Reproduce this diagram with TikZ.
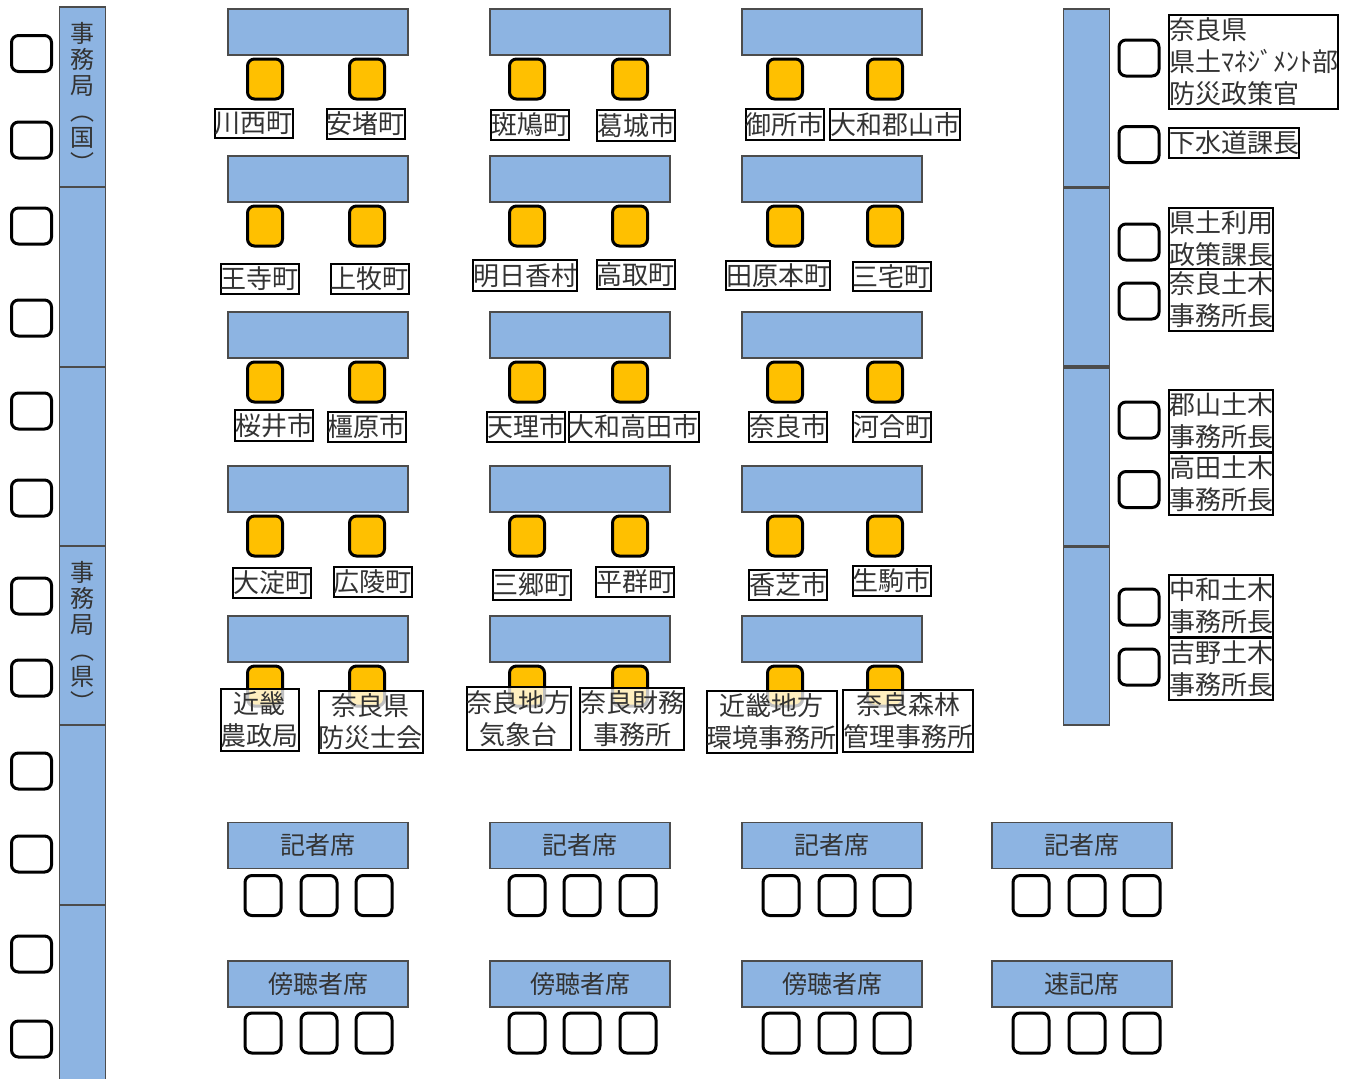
\documentclass[tikz,border=0pt]{standalone}
\usepackage{fontspec}
\setmainfont{Noto Sans CJK JP}
\usepackage{tikz}
\usetikzlibrary{positioning}
\definecolor{deskblue}{RGB}{141, 180, 226}
\definecolor{seatgold}{RGB}{255, 192, 0}
\definecolor{inkgray}{RGB}{51, 51, 51}

\begin{document}
\begin{tikzpicture}[x=0.5pt, y=-0.5pt,
    desk/.style={draw=black!70, fill=deskblue, line width=0.7pt, inner sep=0pt,
      minimum width=90pt, minimum height=23pt, text=inkgray, font=\fontsize{12.5}{13}\selectfont},
    wall/.style={desk, minimum width=23pt, minimum height=90pt, align=center,
      font=\fontsize{12}{13}\selectfont},
    chair/.style={draw=black, fill=white, line width=1.5pt, rounded corners=3.5pt,
      inner sep=0pt, minimum width=18pt, minimum height=20pt},
    sidechair/.style={chair, minimum width=20pt, minimum height=18pt},
    member/.style={chair, fill=seatgold, minimum width=17.5pt},
    tag/.style={draw=black, fill=white, fill opacity=0.75, text opacity=1, line width=1pt,
      inner xsep=0pt, inner ysep=1.5pt, text=inkgray, align=center,
      font=\fontsize{13}{16}\selectfont},
    sidetag/.style={tag, fill opacity=1, align=left, anchor=north west}]
  \useasboundingbox (0,0) rectangle (1347,1078);

  % secretariat wall (left) and its chairs
  \foreach \i/\y/\txt in {1/97/{事\\務\\局\\︵\\国\\︶}, 2/277/{}, 3/457/{},
      4/636/{事\\務\\局\\︵\\県\\︶}, 5/815/{}, 6/995/{}}
    \node[wall] (wallL\i) at (82.5,\y) {\txt};
  \foreach \y [count=\i] in {53.5, 140, 226, 318, 411, 498, 596, 678, 771, 854, 954, 1039}
    \node[sidechair] (staff\i) at (31.5,\y) {};

  % prefecture wall (right), chairs and titles
  \foreach \i/\y in {1/98, 2/277, 3/457, 4/636}
    \node[wall, minimum height=89pt] (wallR\i) at (1086.5,\y) {};
  \foreach \y [count=\i] in {58, 144.5, 242, 301, 420, 489.5, 607, 667}
    \node[sidechair] (chief\i) at (1139,\y) {};
  \node[sidetag] (chiefT1) at (1168,14) {奈良県\\県土ﾏﾈｼﾞﾒﾝﾄ部\\防災政策官};
  \node[sidetag] (chiefT2) at (1168,127) {下水道課長};
  \node[sidetag] (chiefT3) at (1168,207) {県土利用\\政策課長};
  \node[sidetag] (chiefT4) at (1168,268) {奈良土木\\事務所長};
  \node[sidetag] (chiefT5) at (1168,389) {郡山土木\\事務所長};
  \node[sidetag] (chiefT6) at (1168,452) {高田土木\\事務所長};
  \node[sidetag] (chiefT7) at (1168,574) {中和土木\\事務所長};
  \node[sidetag] (chiefT8) at (1168,637) {吉野土木\\事務所長};

  % member desks, two seats each
  \foreach \r/\y in {1/32, 2/179, 3/335, 4/489, 5/639} {
    \foreach \c/\x/\xa/\xb in {1/318/265/367, 2/580/527/630, 3/832/785/885} {
      \node[desk] (desk\r\c) at (\x,\y) {};
      \node[member] (seat\r\c-a) at (\xa,\y+47) {};
      \node[member] (seat\r\c-b) at (\xb,\y+47) {};
    }
  }

  % member names
  \foreach \n/\x/\y/\txt in {
      11/253.5/123.5/川西町, 12/365.5/123.5/安堵町, 13/530/125/斑鳩町,
      14/636/125.5/葛城市, 15/784.5/124.5/御所市, 16/895/124.5/大和郡山市,
      21/259.5/279/王寺町, 22/369.5/278.5/上牧町, 23/525/275.5/明日香村,
      24/635.5/274.5/高取町, 25/778/275.5/田原本町, 26/891.5/276.5/三宅町,
      31/274/425.5/桜井市, 32/366.5/427/橿原市, 33/526/427/天理市,
      34/633.5/427/大和高田市, 35/788/427/奈良市, 36/892/427/河合町,
      41/272/583/大淀町, 42/372.5/582/広陵町, 43/531.5/585/三郷町,
      44/635/582/平群町, 45/788/585/香芝市, 46/891.5/581/生駒市,
      51/259.5/720/{近畿\\農政局}, 52/370.5/722/{奈良県\\防災士会},
      53/518.5/718.5/{奈良地方\\気象台}, 54/632/719/{奈良財務\\事務所},
      55/771.5/722/{近畿地方\\環境事務所}, 56/908/721/{奈良森林\\管理事務所}}
    \node[tag] (name\n) at (\x,\y) {\txt};

  % press and public seats
  \foreach \c/\x/\xa/\xb/\xc/\pressname/\publicname in {
      1/318/263/319/374/記者席/傍聴者席, 2/580/527/582/638/記者席/傍聴者席,
      3/832/781/837/892/記者席/傍聴者席, 4/1082/1031/1087/1142/記者席/速記席} {
    \node[desk] (press\c) at (\x,845.5) {\pressname};
    \node[desk] (public\c) at (\x,984) {\publicname};
    \foreach \s/\sx in {1/\xa, 2/\xb, 3/\xc} {
      \node[chair] (press\c-\s) at (\sx,895.5) {};
      \node[chair] (public\c-\s) at (\sx,1033) {};
    }
  }
\end{tikzpicture}
\end{document}
